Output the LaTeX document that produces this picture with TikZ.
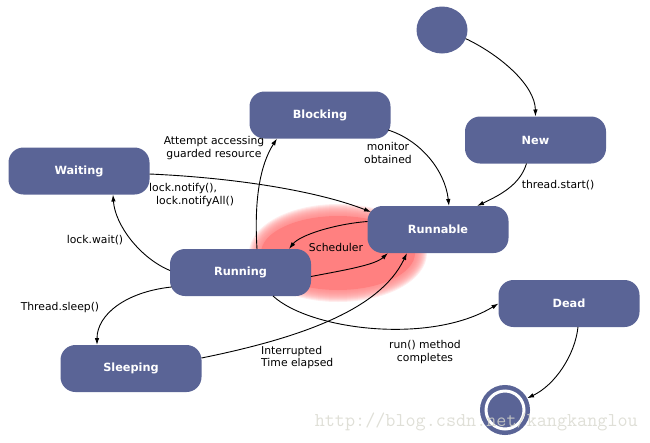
\documentclass[tikz,border=0pt]{standalone}
\usepackage{fontspec}
\setmainfont{DejaVu Sans}
\usepackage{tikz}
\usetikzlibrary{arrows.meta, shapes.geometric}

\definecolor{stateblue}{RGB}{90,100,150}
\definecolor{schedred}{RGB}{255,128,128}
\definecolor{wmgray}{RGB}{215,215,205}

\begin{document}
\begin{tikzpicture}[
  x=1pt, y=-1pt,
  >={Latex[length=7pt, width=4.5pt]},
  font=\fontsize{10.8pt}{12.5pt}\selectfont,
  % Node styles
  state/.style   = {rectangle, fill=stateblue, rounded corners=15pt,
                    minimum width=141pt, minimum height=47pt,
                    inner sep=0pt, outer sep=0pt, text=white,
                    font=\fontsize{11.3pt}{13pt}\selectfont\bfseries},
  start/.style   = {ellipse, fill=stateblue, minimum width=51pt,
                    minimum height=47pt, inner sep=0pt, outer sep=0pt},
  final/.style   = {circle, fill=stateblue, draw=stateblue, double=white,
                    double distance=3pt, line width=4.5pt,
                    minimum size=38pt, inner sep=0pt, outer sep=6pt},
  lbl/.style     = {align=center, inner sep=0pt},
  % Arrow style
  trans/.style   = {->, line width=0.9pt, black}
]
\useasboundingbox (0,0) rectangle (650,442);

% =========================== SCHEDULER BLOB ===========================
\foreach \g in {12,11,...,1}
  \fill[schedred, opacity=0.14] (338,253)
    ellipse [x radius={77+\g}, y radius={37+\g}];
\fill[schedred] (338,253) ellipse [x radius=77, y radius=37];

% =========================== STATES ===========================
\node[start] (init)     at (442,  30)   {};
\node[state] (new)      at (535.5,140)  {New};
\node[state] (blocking) at (320,  115)  {Blocking};
\node[state] (waiting)  at (79,   171)  {Waiting};
\node[state] (runnable) at (438,  229.5){Runnable};
\node[state] (running)  at (240.5,272.5){Running};
\node[state] (sleeping) at (131,  368.5){Sleeping};
\node[state] (dead)     at (569,  303.5){Dead};
\node[final] (final)    at (505,  410)  {};

% =========================== TRANSITIONS ===========================
\draw[trans] (init.-20) .. controls (500,55) and (535,85) .. (new.north);
\draw[trans] ([shift={(-9,0)}]new.south) .. controls (520,185) and (500,195)
  .. ([shift={(39,0)}]runnable.north);
\draw[trans] ([shift={(-2.5,15)}]blocking.east) .. controls (420,140) and (445,170)
  .. ([shift={(11,0)}]runnable.north);
\draw[trans] ([shift={(16.5,0)}]running.north) .. controls (254,200) and (260,165)
  .. ([shift={(-43,0)}]blocking.south);
\draw[trans] ([shift={(0,3)}]waiting.east) .. controls (240,178) and (320,192)
  .. ([shift={(3.5,-17.5)}]runnable.west);
\draw[trans] ([shift={(0,-2)}]running.west) .. controls (140,258) and (115,225)
  .. ([shift={(34,0)}]waiting.south);

% scheduler loop
\draw[trans] ([shift={(0,-8)}]runnable.west) .. controls (335,224) and (300,235)
  .. ([shift={(48.5,0)}]running.north);
\draw[trans] ([shift={(0,4)}]running.east) .. controls (345,270) and (375,265)
  .. ([shift={(-50,0)}]runnable.south);

\draw[trans] ([shift={(0,-10.5)}]sleeping.east) .. controls (300,338) and (380,310)
  .. ([shift={(-31,0)}]runnable.south);
\draw[trans] ([shift={(1.5,14.5)}]running.west) .. controls (125,292) and (97,315)
  .. ([shift={(-34,0)}]sleeping.north);
\draw[trans] ([shift={(32.5,0)}]running.south) .. controls (310,330) and (430,345)
  .. (dead.west);
\draw[trans] ([shift={(9,0)}]dead.south) .. controls (575,355) and (555,385)
  .. (final.28);

% =========================== LABELS ===========================
\node[lbl] (lstart)   at (558,185)   {thread.start()};
\node[lbl] (lmonitor) at (388,153)   {monitor\\obtained};
\node[lbl] (lattempt) at (214,148)   {Attempt accessing\\guarded resource};
\node[lbl, align=left, anchor=west] (lnotify) at (149,195)
  {lock.notify(),\\\hspace*{7pt}lock.notifyAll()};
\node[lbl] (lwait)    at (95,240)    {lock.wait()};
\node[lbl] (lsched)   at (336,247)   {Scheduler};
\node[lbl] (lsleep)   at (60,308)    {Thread.sleep()};
\node[lbl, align=left, anchor=west] (lint) at (261,357.5)
  {Interrupted\\Time elapsed};
\node[lbl] (lrun)     at (425,352)   {run() method\\completes};

% watermark
\node[anchor=east, inner sep=0pt, text=wmgray, opacity=0.8,
      font=\fontsize{19.6pt}{20pt}\selectfont\ttfamily] (wm) at (638,422)
  {http://blog.csdn.net/kangkanglou};

\end{tikzpicture}
\end{document}
